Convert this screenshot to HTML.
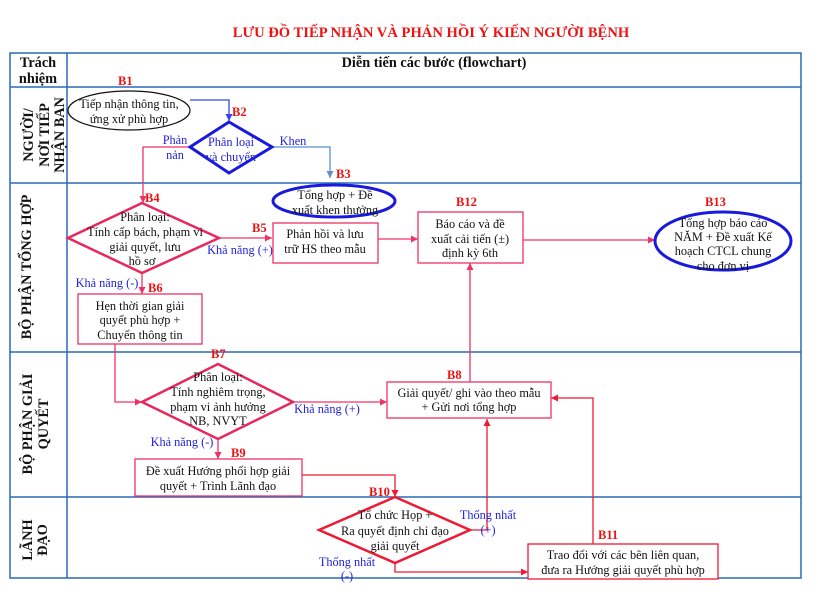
<!DOCTYPE html>
<html><head><meta charset="utf-8">
<style>
html,body{margin:0;padding:0;background:#fff;}
svg{display:block;}
text{font-family:"Liberation Serif","DejaVu Serif",serif;}
.t{font-size:12.3px;fill:#111;text-anchor:middle;}
.bl{font-size:12.3px;fill:#2222dd;text-anchor:middle;}
.lb{font-size:12.5px;fill:#ee1111;font-weight:bold;}
.hd{font-size:14.3px;font-weight:bold;fill:#111;text-anchor:middle;}
.rl{font-size:14.3px;font-weight:bold;fill:#111;text-anchor:middle;}
</style></head>
<body>
<svg width="818" height="592" viewBox="0 0 818 592" xmlns="http://www.w3.org/2000/svg">
<defs>
<marker id="ap" viewBox="0 0 10 10" refX="10" refY="5" markerWidth="7" markerHeight="7" markerUnits="userSpaceOnUse" orient="auto"><path d="M0,0 L10,5 L0,10 z" fill="#ee3366"/></marker>
<marker id="ar" viewBox="0 0 10 10" refX="10" refY="5" markerWidth="7" markerHeight="7" markerUnits="userSpaceOnUse" orient="auto"><path d="M0,0 L10,5 L0,10 z" fill="#ee1a33"/></marker>
<marker id="ab" viewBox="0 0 10 10" refX="10" refY="5" markerWidth="7" markerHeight="7" markerUnits="userSpaceOnUse" orient="auto"><path d="M0,0 L10,5 L0,10 z" fill="#3344ee"/></marker>
<marker id="as" viewBox="0 0 10 10" refX="10" refY="5" markerWidth="7" markerHeight="7" markerUnits="userSpaceOnUse" orient="auto"><path d="M0,0 L10,5 L0,10 z" fill="#5b8fd0"/></marker>
</defs>

<!-- Title -->
<text x="431" y="37" style="font-size:14.6px;font-weight:bold;fill:#ee1111;text-anchor:middle;">LƯU ĐỒ TIẾP NHẬN VÀ PHẢN HỒI Ý KIẾN NGƯỜI BỆNH</text>

<!-- Table -->
<g stroke="#2a6ab5" stroke-width="1.5" fill="none">
<rect x="10" y="53" width="791" height="525"/>
<line x1="67" y1="53" x2="67" y2="578"/>
<line x1="10" y1="87" x2="801" y2="87"/>
<line x1="10" y1="183" x2="801" y2="183"/>
<line x1="10" y1="352" x2="801" y2="352"/>
<line x1="10" y1="497" x2="801" y2="497"/>
</g>

<!-- Header -->
<text class="hd" x="38" y="67">Trách</text>
<text class="hd" x="38" y="83">nhiệm</text>
<text class="hd" x="434" y="67">Diễn tiến các bước (flowchart)</text>

<!-- Row labels -->
<g transform="translate(0,135) rotate(-90)">
<text class="rl" x="0" y="33">NGƯỜI/</text>
<text class="rl" x="0" y="49">NƠI TIẾP</text>
<text class="rl" x="0" y="64">NHẬN BAN</text>
</g>
<g transform="translate(0,267) rotate(-90)">
<text class="rl" x="0" y="31">BỘ PHẬN TỔNG HỢP</text>
</g>
<g transform="translate(0,424) rotate(-90)">
<text class="rl" x="0" y="32">BỘ PHẬN GIẢI</text>
<text class="rl" x="0" y="48">QUYẾT</text>
</g>
<g transform="translate(0,540) rotate(-90)">
<text class="rl" x="0" y="32">LÃNH</text>
<text class="rl" x="0" y="47">ĐẠO</text>
</g>

<!-- Connectors -->
<g fill="none" stroke-width="1.3">
<polyline points="190,100 229,100 229,121" stroke="#3344ee" marker-end="url(#ab)"/>
<polyline points="190,147 143,147 143,203" stroke="#ee3366" marker-end="url(#ap)"/>
<polyline points="272,147 330,147 330,178" stroke="#5b8fd0" marker-end="url(#as)"/>
<line x1="219" y1="238" x2="272" y2="238" stroke="#ee3366" marker-end="url(#ap)"/>
<line x1="378" y1="239" x2="418" y2="239" stroke="#ee3366" marker-end="url(#ap)"/>
<line x1="523" y1="240" x2="655" y2="240" stroke="#ee3366" marker-end="url(#ap)"/>
<line x1="142" y1="273" x2="142" y2="294" stroke="#ee3366" marker-end="url(#ap)"/>
<polyline points="115,344 115,402 142,402" stroke="#ee3366" marker-end="url(#ap)"/>
<line x1="293" y1="402" x2="387" y2="402" stroke="#ee3366" marker-end="url(#ap)"/>
<line x1="470" y1="382" x2="470" y2="263" stroke="#ee3366" marker-end="url(#ap)"/>
<line x1="218" y1="439" x2="218" y2="459" stroke="#ee3366" marker-end="url(#ap)"/>
<polyline points="302,475 395,475 395,497" stroke="#ee1a33" marker-end="url(#ar)"/>
<polyline points="470,530 487,530 487,419" stroke="#ee1a33" marker-end="url(#ar)"/>
<polyline points="395,563 395,572 528,572" stroke="#ee1a33" marker-end="url(#ar)"/>
<polyline points="593,544 593,398 551,398" stroke="#ee1a33" marker-end="url(#ar)"/>
</g>

<!-- B1 -->
<text class="lb" x="118" y="85">B1</text>
<ellipse cx="129" cy="110.5" rx="61" ry="19.5" fill="#fff" stroke="#111" stroke-width="1.2"/>
<text class="t" x="129" y="108">Tiếp nhận thông tin,</text>
<text class="t" x="129" y="123">ứng xử phù hợp</text>

<!-- B2 -->
<text class="lb" x="232" y="116">B2</text>
<polygon points="229,122 272,147 229,173 190,147" fill="#fff" stroke="#1a1adf" stroke-width="3"/>
<text class="bl" x="231" y="146">Phân loại</text>
<text class="bl" x="231" y="161">và chuyển</text>
<text class="bl" x="175" y="144">Phản</text>
<text class="bl" x="175" y="159">nản</text>
<text class="bl" x="293" y="145">Khen</text>

<!-- B3 -->
<text class="lb" x="336" y="178">B3</text>
<ellipse cx="334" cy="201" rx="61" ry="16" fill="#fff" stroke="#1a1adf" stroke-width="3"/>
<text class="t" x="335" y="199">Tổng hợp + Đề</text>
<text class="t" x="335" y="214">xuất khen thưởng</text>

<!-- B4 -->
<text class="lb" x="145" y="202">B4</text>
<polygon points="142,203 219,238 142,273 68,238" fill="#fff" stroke="#e8285a" stroke-width="2.5"/>
<text class="t" x="145" y="221">Phân loại:</text>
<text class="t" x="145" y="236">Tính cấp bách, phạm vi</text>
<text class="t" x="145" y="251">giải quyết, lưu</text>
<text class="t" x="142" y="265">hồ sơ</text>
<text class="bl" x="240" y="254">Khả năng (+)</text>

<!-- B5 -->
<text class="lb" x="252" y="232">B5</text>
<rect x="273" y="223" width="105" height="40" fill="#fff" stroke="#ee3366" stroke-width="1.3"/>
<text class="t" x="325" y="238">Phản hồi và lưu</text>
<text class="t" x="325" y="253">trữ HS theo mẫu</text>

<!-- B12 -->
<text class="lb" x="456" y="206">B12</text>
<rect x="418" y="212" width="105" height="51" fill="#fff" stroke="#ee3366" stroke-width="1.3"/>
<text class="t" x="470" y="228">Báo cáo và đề</text>
<text class="t" x="470" y="243">xuất cải tiến (±)</text>
<text class="t" x="470" y="257">định kỳ 6th</text>

<!-- B13 -->
<text class="lb" x="705" y="206">B13</text>
<ellipse cx="723" cy="241" rx="68" ry="29" fill="#fff" stroke="#1a1adf" stroke-width="3"/>
<text class="t" x="723" y="227">Tổng hợp báo cáo</text>
<text class="t" x="723" y="241">NĂM + Đề xuất Kế</text>
<text class="t" x="723" y="255">hoạch CTCL chung</text>
<text class="t" x="723" y="270">cho đơn vị</text>

<!-- B6 -->
<text class="bl" x="107" y="287">Khả năng (-)</text>
<text class="lb" x="148" y="292">B6</text>
<rect x="78" y="294" width="124" height="50" fill="#fff" stroke="#ee3366" stroke-width="1.3"/>
<text class="t" x="140" y="310">Hẹn thời gian giải</text>
<text class="t" x="140" y="324">quyết phù hợp +</text>
<text class="t" x="140" y="339">Chuyển thông tin</text>

<!-- B7 -->
<text class="lb" x="211" y="358">B7</text>
<polygon points="218,364 293,402 218,439 142,402" fill="#fff" stroke="#e8285a" stroke-width="2.5"/>
<text class="t" x="218" y="381">Phân loại:</text>
<text class="t" x="218" y="396">Tính nghiêm trọng,</text>
<text class="t" x="218" y="411">phạm vi ảnh hưởng</text>
<text class="t" x="218" y="425">NB, NVYT</text>
<text class="bl" x="327" y="413">Khả năng (+)</text>

<!-- B8 -->
<text class="lb" x="447" y="379">B8</text>
<rect x="387" y="382" width="164" height="36" fill="#fff" stroke="#ee3366" stroke-width="1.3"/>
<text class="t" x="469" y="397">Giải quyết/ ghi vào theo mẫu</text>
<text class="t" x="469" y="411">+ Gửi nơi tổng hợp</text>

<!-- B9 -->
<text class="bl" x="182" y="446">Khả năng (-)</text>
<text class="lb" x="231" y="457">B9</text>
<rect x="135" y="459" width="167" height="37" fill="#fff" stroke="#ee3366" stroke-width="1.3"/>
<text class="t" x="218" y="475">Đề xuất Hướng phối hợp giải</text>
<text class="t" x="218" y="490">quyết + Trình Lãnh đạo</text>

<!-- B10 -->
<text class="lb" x="369" y="496">B10</text>
<polygon points="395,497 470,530 395,563 319,530" fill="#fff" stroke="#ee1a33" stroke-width="2.5"/>
<text class="t" x="395" y="519">Tổ chức Họp +</text>
<text class="t" x="395" y="535">Ra quyết định chỉ đạo</text>
<text class="t" x="395" y="550">giải quyết</text>
<text class="bl" x="488" y="519">Thống nhất</text>
<text class="bl" x="488" y="534">(+)</text>
<text class="bl" x="347" y="566">Thống nhất</text>
<text class="bl" x="347" y="580">(-)</text>

<!-- B11 -->
<text class="lb" x="598" y="539">B11</text>
<rect x="528" y="544" width="190" height="35" fill="#fff" stroke="#ee1a33" stroke-width="1.3"/>
<text class="t" x="623" y="559">Trao đổi với các bên liên quan,</text>
<text class="t" x="623" y="574">đưa ra Hướng giải quyết phù hợp</text>
</svg>
</body></html>
